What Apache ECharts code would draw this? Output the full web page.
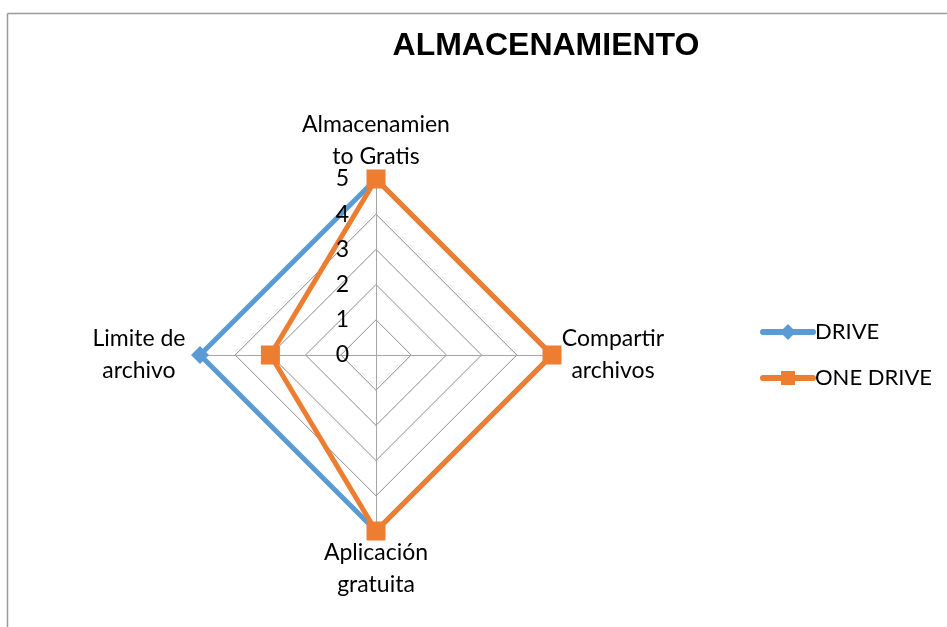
<!DOCTYPE html>
<html>
<head>
<meta charset="utf-8">
<script src="https://cdn.jsdelivr.net/npm/echarts@6/dist/echarts.min.js"></script>
<style>
html,body{margin:0;padding:0;background:#fff;}
#chart{width:947px;height:627px;}
</style>
</head>
<body>
<div id="chart"></div>
<script>
const titleText = 'ALMACENAMIENTO';
const indicators = ['Almacenamien\nto Gratis', 'Limite de\narchivo', 'Aplicación\ngratuita', 'Compartir\narchivos'];
const maxValue = 5;
const seriesNames = ['DRIVE', 'ONE DRIVE'];
const driveValues = [5, 5, 5, 5];
const oneDriveValues = [5, 3, 5, 5];

const chart = echarts.init(document.getElementById('chart'));
const font = 'Lato, "Open Sans", sans-serif';
const center = [376, 355];
const radius = 176;
const iconDiamond = 'path://M3,5 L53,5 A3,3 0 0 1 53,11 L3,11 A3,3 0 0 1 3,5 Z M28,0 L36,8 L28,16 L20,8 Z';
const iconSquare = 'path://M3,5 L53,5 A3,3 0 0 1 53,11 L3,11 A3,3 0 0 1 3,5 Z M21,1 L35,1 L35,15 L21,15 Z';
const nameFmt = n => n.split('\n').map(s => '{a|' + s + '}').join('\n');
chart.setOption({
  animation: false,
  backgroundColor: '#fff',
  title: {
    text: titleText,
    left: 541, top: 25, textAlign: 'center',
    textStyle: {fontFamily: '"Liberation Sans Narrow", "Liberation Sans", Arial, sans-serif', fontWeight: 'bold', fontSize: 32, color: '#000'}
  },
  legend: {
    orient: 'vertical', left: 755, top: 316, itemGap: 24, itemWidth: 56, itemHeight: 16,
    data: [{name: seriesNames[0], icon: iconDiamond}, {name: seriesNames[1], icon: iconSquare}],
    textStyle: {fontFamily: font, fontSize: 22, color: '#000', padding: [0,0,0,-6]}
  },
  graphic: [
    {type: 'line', shape: {x1: 7.5, y1: 13.5, x2: 947, y2: 13.5}, style: {stroke: '#9a9a9a', lineWidth: 1.5}},
    {type: 'line', shape: {x1: 7.5, y1: 13.5, x2: 7.5, y2: 627}, style: {stroke: '#9a9a9a', lineWidth: 1.5}}
  ],
  radar: [{
    center: center, radius: radius, shape: 'polygon', splitNumber: 5, startAngle: 90,
    indicator: indicators.map(n => ({name: n, min: 0, max: maxValue})),
    axisName: {formatter: nameFmt, rich: {a: {color: '#000', fontFamily: font, fontSize: 23, lineHeight: 32, width: 110, align: 'center'}}},
    nameGap: 6,
    axisLine: {show: true, lineStyle: {color: '#a6a6a6', width: 1}},
    splitLine: {lineStyle: {color: '#8c8c8c', width: 1}},
    splitArea: {show: false},
    axisTick: {show: false},
    axisLabel: {show: false}
  }, {
    center: center, radius: radius, shape: 'polygon', splitNumber: 5, startAngle: 90, z: 10,
    indicator: indicators.map((n, i) => i === 0 ? {name: n, min: 0, max: maxValue} : {name: n, min: 0, max: maxValue, axisLabel: {show: false}}),
    axisName: {show: false},
    axisLine: {show: false},
    splitLine: {show: false},
    splitArea: {show: false},
    axisTick: {show: false},
    axisLabel: {show: true, color: '#000', fontFamily: font, fontSize: 23, margin: 27}
  }],
  series: [{
    type: 'radar',
    radarIndex: 0,
    data: [
      {name: seriesNames[0], value: driveValues, symbol: 'diamond', symbolSize: 18,
       lineStyle: {color: '#5B9BD5', width: 5}, itemStyle: {color: '#5B9BD5'}},
      {name: seriesNames[1], value: oneDriveValues, symbol: 'rect', symbolSize: 19,
       lineStyle: {color: '#ED7D31', width: 5}, itemStyle: {color: '#ED7D31'}}
    ]
  }]
});
</script>
</body>
</html>
